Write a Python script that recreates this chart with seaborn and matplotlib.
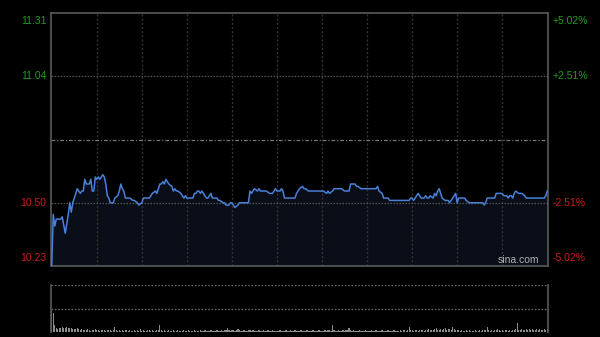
import numpy as np
import pandas as pd
import matplotlib
matplotlib.use("Agg")
import matplotlib.pyplot as plt
import seaborn as sns

# ---------------- data ----------------
prev_close = 10.77
price_ticks = [10.23, 10.50, 10.77, 11.04, 11.31]
pct_labels = ["-5.02%", "-2.51%", "", "+2.51%", "+5.02%"]
price_labels = ["10.23", "10.50", "", "11.04", "11.31"]

minutes = [0, 1, 2, 3, 6, 7, 9, 11, 12, 13, 14, 15, 16, 17, 19, 20, 21, 22, 23, 25,
           26, 27, 28, 29, 30, 31, 32, 33, 34, 35, 36, 37, 38, 39, 41, 42, 44, 45, 46, 47,
           48, 49, 51, 52, 54, 55, 57, 58, 60, 61, 63, 65, 67, 69, 70, 72, 73, 74, 75, 76,
           77, 78, 80, 81, 82, 83, 84, 86, 87, 88, 89, 90, 92, 93, 94, 95, 96, 97, 98, 99,
           100, 102, 103, 104, 106, 107, 108, 110, 111, 112, 114, 115, 116, 118, 119, 120, 121, 122, 124, 125,
           131, 132, 133, 134, 135, 137, 138, 139, 140, 143, 145, 147, 148, 149, 150, 151, 152, 153, 154, 155,
           157, 158, 159, 161, 162, 163, 164, 165, 167, 168, 169, 171, 172, 174, 175, 177, 178, 179, 180, 181,
           183, 184, 185, 187, 188, 189, 191, 192, 193, 195, 196, 197, 198, 199, 200, 202, 203, 204, 206, 207,
           216, 217, 218, 220, 221, 222, 224, 225, 226, 238, 239, 240, 241, 242, 244, 245, 246, 248, 249, 250,
           251, 252, 254, 255, 256, 257, 258, 259, 260, 262, 264, 265, 266, 267, 268, 269, 270, 271, 272, 274,
           275, 276, 278, 287, 288, 289, 290, 294, 295, 296, 297, 300, 301, 303, 304, 305, 306, 307, 308, 309,
           311, 312, 313, 315, 316, 317, 328, 329, 330]
prices = [10.23, 10.45, 10.40, 10.43, 10.43, 10.44, 10.37, 10.45, 10.50, 10.46, 10.50, 10.52, 10.54, 10.56, 10.54, 10.55, 10.55, 10.60, 10.58, 10.58,
          10.60, 10.55, 10.55, 10.61, 10.60, 10.61, 10.60, 10.61, 10.62, 10.61, 10.58, 10.53, 10.52, 10.50, 10.50, 10.52, 10.53, 10.55, 10.58, 10.56,
          10.55, 10.52, 10.52, 10.52, 10.51, 10.51, 10.50, 10.49, 10.50, 10.52, 10.52, 10.52, 10.54, 10.55, 10.54, 10.58, 10.58, 10.59, 10.58, 10.60,
          10.59, 10.58, 10.57, 10.55, 10.56, 10.55, 10.55, 10.54, 10.53, 10.52, 10.53, 10.52, 10.52, 10.52, 10.52, 10.54, 10.54, 10.55, 10.55, 10.54,
          10.55, 10.53, 10.52, 10.52, 10.54, 10.52, 10.52, 10.52, 10.51, 10.51, 10.50, 10.50, 10.49, 10.49, 10.50, 10.50, 10.49, 10.48, 10.49, 10.50,
          10.50, 10.55, 10.54, 10.55, 10.56, 10.55, 10.56, 10.55, 10.55, 10.55, 10.54, 10.54, 10.55, 10.56, 10.55, 10.55, 10.55, 10.56, 10.55, 10.52,
          10.52, 10.52, 10.52, 10.52, 10.52, 10.54, 10.55, 10.56, 10.57, 10.56, 10.56, 10.55, 10.55, 10.55, 10.55, 10.55, 10.55, 10.55, 10.55, 10.55,
          10.54, 10.55, 10.54, 10.55, 10.56, 10.56, 10.56, 10.56, 10.56, 10.55, 10.55, 10.55, 10.55, 10.58, 10.58, 10.58, 10.57, 10.57, 10.56, 10.56,
          10.56, 10.57, 10.55, 10.54, 10.52, 10.52, 10.52, 10.51, 10.51, 10.51, 10.52, 10.52, 10.51, 10.52, 10.54, 10.53, 10.52, 10.52, 10.53, 10.52,
          10.52, 10.53, 10.52, 10.54, 10.53, 10.55, 10.56, 10.54, 10.52, 10.51, 10.51, 10.50, 10.51, 10.52, 10.53, 10.54, 10.50, 10.52, 10.52, 10.52,
          10.52, 10.51, 10.50, 10.50, 10.49, 10.50, 10.52, 10.52, 10.52, 10.54, 10.54, 10.54, 10.53, 10.53, 10.52, 10.53, 10.53, 10.52, 10.54, 10.55,
          10.54, 10.54, 10.54, 10.53, 10.52, 10.52, 10.52, 10.53, 10.55]

volumes = [210, 190, 70, 40, 30, 45, 40, 50, 40, 45,
           50, 40, 45, 40, 35, 30, 35, 40, 30, 25,
           30, 25, 20, 25, 30, 20, 15, 25, 20, 30,
           20, 25, 15, 20, 25, 20, 15, 20, 25, 20,
           15, 20, 50, 20, 15, 20, 10, 25, 15, 20,
           20, 15, 20, 10, 15, 20, 15, 20, 15, 30,
           15, 20, 10, 15, 20, 25, 15, 20, 10, 15,
           20, 25, 70, 20, 15, 20, 10, 15, 20, 15,
           15, 20, 10, 15, 20, 15, 10, 15, 20, 10,
           15, 20, 15, 10, 15, 20, 10, 15, 10, 20,
           15, 10, 20, 15, 10, 15, 20, 15, 10, 15,
           20, 15, 10, 20, 15, 20, 25, 40, 20, 15,
           20, 25, 15, 20, 30, 20, 15, 10, 20, 15,
           10, 20, 25, 15, 20, 15, 10, 15, 20, 10,
           15, 20, 10, 15, 20, 15, 10, 20, 15, 10,
           15, 10, 20, 15, 10, 15, 20, 10, 15, 20,
           10, 15, 20, 15, 10, 15, 20, 15, 10, 15,
           20, 15, 10, 15, 20, 15, 10, 15, 20, 15,
           10, 15, 20, 15, 25, 20, 15, 70, 20, 15,
           15, 20, 10, 15, 20, 15, 20, 25, 40, 20,
           15, 20, 15, 10, 15, 20, 15, 10, 15, 20,
           15, 10, 15, 20, 10, 15, 20, 15, 10, 15,
           20, 15, 10, 15, 20, 15, 10, 15, 20, 15,
           10, 15, 20, 15, 20, 25, 15, 20, 50, 25,
           20, 15, 20, 25, 15, 20, 25, 20, 15, 20,
           25, 30, 20, 25, 20, 30, 40, 25, 20, 30,
           25, 30, 45, 25, 30, 35, 25, 55, 30, 20,
           20, 25, 15, 20, 15, 10, 20, 15, 20, 15,
           10, 15, 20, 15, 10, 20, 15, 20, 25, 20,
           50, 20, 15, 20, 15, 20, 25, 30, 20, 15,
           20, 15, 20, 25, 15, 20, 15, 25, 20, 30,
           90, 25, 20, 30, 25, 20, 30, 25, 30, 20,
           30, 25, 20, 30, 25, 30, 20, 25, 30, 25,
           30]

# ---------------- style ----------------
sns.set_theme(style="dark")
plt.rcParams["font.family"] = ["Liberation Sans", "DejaVu Sans"]

BG = "#000000"
GRID = "#333333"
BORDER = "#5a5a5a"
LINE = "#4a80d8"
FILL = "#0a0e18"
GREEN = "#1e9e1e"
RED = "#c81e1e"

fig = plt.figure(figsize=(6.0, 3.37), dpi=100, facecolor=BG)
ax = fig.add_axes([51 / 600, 1 - 266 / 337, 497 / 600, 253 / 337])
axv = fig.add_axes([51 / 600, 1 - 332 / 337, 497 / 600, 47 / 337])

xmax = 330
for a in (ax, axv):
    a.set_facecolor(BG)
    a.set_xlim(-0.5, xmax + 0.5)
    a.set_xticks([])
    a.set_yticks([])
    a.grid(False)
    a.set_xlabel("")
    a.set_ylabel("")

# ---- price panel ----
df = pd.DataFrame({"minute": minutes, "price": prices})
ax.set_ylim(price_ticks[0], price_ticks[-1])
ax.fill_between(df["minute"], df["price"], price_ticks[0], color=FILL, zorder=1, linewidth=0)
for t in range(30, xmax, 30):
    ax.axvline(t, color=GRID, lw=1.0, ls=(0, (1.5, 1.5)), zorder=2)
for p in (price_ticks[1], price_ticks[3]):
    ax.axhline(p, color="#555555", lw=0.9, ls=(0, (1.2, 1.2)), zorder=2)
ax.axhline(prev_close, color="#777777", lw=0.9, ls=(0, (3, 1.5, 1, 1.5)), zorder=2)
sns.lineplot(data=df, x="minute", y="price", ax=ax, color=LINE, lw=1.1, zorder=3)
ax.set_xlabel("")
ax.set_ylabel("")
for s in ax.spines.values():
    s.set_visible(True)
    s.set_color(BORDER)
    s.set_linewidth(1.2)

trans_l = ax.get_yaxis_transform()
for p, lab, pct in zip(price_ticks, price_labels, pct_labels):
    if not lab:
        continue
    col = GREEN if p > prev_close else RED
    if p == price_ticks[-1]:
        va, off = "top", -0.012
    elif p == price_ticks[0]:
        va, off = "bottom", 0.012
    else:
        va, off = "center", 0.0
    ax.text(-0.009, p + off, lab, transform=trans_l, ha="right", va=va,
            color=col, fontsize=7.5)
    ax.text(1.010, p + off, pct, transform=trans_l, ha="left", va=va,
            color=col, fontsize=7.5)

ax.text(0.983, 0.005, "sina.com", transform=ax.transAxes, ha="right", va="bottom",
        color="#b0b0b0", fontsize=7.5)

# ---- volume panel ----
vdf = pd.DataFrame({"minute": np.arange(len(volumes)), "volume": volumes})
sns.barplot(data=vdf, x="minute", y="volume", ax=axv, color="#8c8c8c",
            width=0.8, saturation=1, native_scale=True,
            edgecolor="none", linewidth=0)
axv.set_xlim(-0.5, xmax + 0.5)
axv.set_ylim(0, 470)
axv.set_xticks([])
axv.set_yticks([])
axv.set_xlabel("")
axv.set_ylabel("")
axv.axhline(470, color="#666666", lw=1.0, ls=(0, (1.2, 1.2)))
axv.axhline(235, color="#666666", lw=1.0, ls=(0, (1.2, 1.2)))
for k, s in axv.spines.items():
    s.set_color(BORDER)
    s.set_linewidth(1.2)
    s.set_visible(k in ("left", "right"))

fig.savefig("out.png", dpi=100, facecolor=BG)
